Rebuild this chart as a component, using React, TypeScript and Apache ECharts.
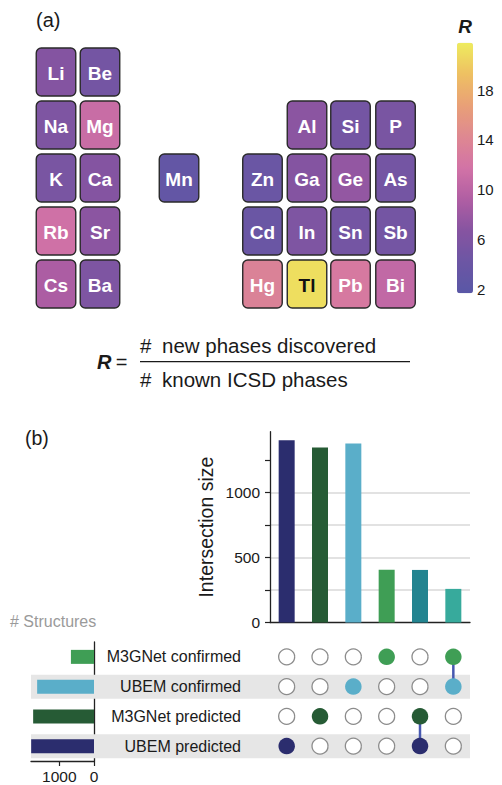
import React, { useEffect, useRef } from "react";
import * as echarts from "echarts";

// ---------- Data: panel (a) ----------
const elements = ["Li", "Be", "Na", "Mg", "K", "Ca", "Rb", "Sr", "Cs", "Ba", "Mn", "Al", "Si", "P", "Zn", "Ga", "Ge", "As", "Cd", "In", "Sn", "Sb", "Hg", "Tl", "Pb", "Bi"];
const periods = [2, 2, 3, 3, 4, 4, 5, 5, 6, 6, 4, 3, 3, 3, 4, 4, 4, 4, 5, 5, 5, 5, 6, 6, 6, 6];
const groups = [1, 2, 1, 2, 1, 2, 1, 2, 1, 2, 7, 13, 14, 15, 12, 13, 14, 15, 12, 13, 14, 15, 12, 13, 14, 15];
const ratios = [6.5, 5.0, 6.0, 11.0, 5.5, 6.5, 11.5, 7.0, 9.0, 6.0, 3.0, 7.0, 5.0, 5.5, 4.0, 6.5, 7.5, 5.0, 4.0, 6.0, 5.0, 5.0, 13.5, 21.0, 12.5, 10.5];
const ratioMin = 1.7;
const ratioMax = 21.8;
const colorbarLabels = [2, 6, 10, 14, 18];
const colorbarTicks = [2, 4, 6, 8, 10, 12, 14, 16, 18, 20];

// ---------- Data: panel (b) ----------
const setNames = ["M3GNet confirmed", "UBEM confirmed", "M3GNet predicted", "UBEM predicted"];
const setSizes = [665, 1638, 1753, 1810];
const setSizeTicks = [0, 1000];
const intersectionIds = ["i1", "i2", "i3", "i4", "i5", "i6"];
const intersectionSizes = [1405, 1348, 1379, 406, 405, 259];
const intersectionSets = [[3], [2], [1], [0], [2, 3], [0, 1]];
const upsetLabels = [0, 500, 1000];
const upsetTicks = [0, 250, 500, 750, 1000, 1250];

// ---------- Styling / layout ----------
const FONT = "'Liberation Sans', Arial, Helvetica, sans-serif";
const cmap = ["#5957a6", "#6c56a4", "#8654a1", "#b05ea3", "#d273a6", "#de8891", "#e9a077", "#eec062", "#eeec5e"];
const groupSlot: Record<number, number> = { 1: 0, 2: 0.993, 7: 2.777, 12: 4.661, 13: 5.666, 14: 6.648, 15: 7.664 };
const intersectionColors = ["#2b2d6e", "#265b35", "#5aaec9", "#3f9e55", "#238490", "#37aa9c"];
const setColors = ["#3f9e55", "#5aaec9", "#265b35", "#2b2d6e"];
const bandRows = [false, true, false, true];
const AX = "#222";

export default function App() {
  const ref = useRef<HTMLDivElement>(null);

  useEffect(() => {
    if (!ref.current) return;
    const chart = echarts.init(ref.current, undefined, { renderer: "svg" });

    const tileData = elements.map((el, i) => ({
      name: el,
      value: [groupSlot[groups[i]], periods[i], ratios[i]],
    }));

    const emptyDots: number[][] = [];
    const filledDots: any[] = [];
    intersectionSets.forEach((sets, c) => {
      setNames.forEach((_, r) => {
        if (sets.includes(r)) filledDots.push({ value: [c, r], itemStyle: { color: setColors[r] } });
        else emptyDots.push([c, r]);
      });
    });
    const connectors = intersectionSets
      .map((sets, c) => (sets.length > 1 ? [c, Math.min(...sets), Math.max(...sets)] : null))
      .filter((d) => d !== null);

    const matrixTop = 642;
    const matrixHeight = 119;

    const option: any = {
      animation: false,
      backgroundColor: "#ffffff",
      textStyle: { fontFamily: FONT },
      grid: [
        { left: 33.85, top: 45.5, width: 383.2, height: 265 },
        { left: 457, top: 42.7, width: 16, height: 250.6 },
        { left: 270, top: 431.7, width: 200, height: 190.8 },
        { left: 31, top: matrixTop, width: 439, height: matrixHeight },
        { left: 270, top: matrixTop, width: 200, height: matrixHeight },
        { left: 31, top: matrixTop, width: 63, height: matrixHeight },
      ],
      xAxis: [
        { gridIndex: 0, type: "value", min: -0.5, max: 8.15, show: false },
        { gridIndex: 1, type: "value", min: 0, max: 1, show: false },
        {
          gridIndex: 2, type: "category", data: intersectionIds,
          axisLine: { lineStyle: { color: AX, width: 1.3 } },
          axisTick: { show: false }, axisLabel: { show: false },
        },
        { gridIndex: 3, type: "value", min: 0, max: 1, show: false },
        { gridIndex: 4, type: "category", data: intersectionIds, show: false },
        {
          gridIndex: 5, type: "value", inverse: true, min: 0, max: 1815, interval: 1000,
          axisLine: { show: true, lineStyle: { color: AX, width: 1.3 } },
          axisTick: { show: true, length: 5, customValues: setSizeTicks, lineStyle: { color: AX, width: 1.2 } },
          axisLabel: {
            fontSize: 15.5, color: "#1a1a1a", margin: 7, fontFamily: FONT,
            customValues: setSizeTicks, formatter: (v: number) => String(v),
          },
          splitLine: { show: true, showMaxLine: false, showMinLine: false, lineStyle: { color: "#d4d4d4", width: 1.2 } },
        },
      ],
      yAxis: [
        { gridIndex: 0, type: "value", inverse: true, min: 1.5, max: 6.5, show: false },
        {
          gridIndex: 1, type: "value", position: "right", min: ratioMin, max: ratioMax,
          axisLine: { show: false },
          axisTick: { show: true, inside: true, length: 3, customValues: colorbarTicks, lineStyle: { color: "rgba(255,255,255,0.75)", width: 1 } },
          axisLabel: { show: true, customValues: colorbarLabels, fontSize: 15, color: "#1a1a1a", margin: 4, fontFamily: FONT },
          splitLine: { show: false },
        },
        {
          gridIndex: 2, type: "value", min: 0, max: 1470, interval: 250,
          name: "Intersection size", nameLocation: "middle", nameGap: 54, nameRotate: 90,
          nameTextStyle: { fontSize: 19.5, color: "#1a1a1a", fontFamily: FONT },
          axisLine: { show: true, lineStyle: { color: AX, width: 1.3 } },
          axisTick: { show: true, length: 5, customValues: upsetTicks, lineStyle: { color: AX, width: 1.2 } },
          axisLabel: {
            fontSize: 15.5, color: "#1a1a1a", margin: 10, fontFamily: FONT,
            customValues: upsetLabels, formatter: (v: number) => String(v),
          },
          splitLine: { show: true, showMaxLine: false, showMinLine: false, lineStyle: { color: "#d9d9d9", width: 1.5 } },
        },
        { gridIndex: 3, type: "category", inverse: true, data: setNames, show: false },
        {
          gridIndex: 4, type: "category", inverse: true, data: setNames,
          axisLine: { show: false }, axisTick: { show: false },
          axisLabel: { fontSize: 16, color: "#1a1a1a", margin: 29, fontFamily: FONT },
        },
        {
          gridIndex: 5, type: "category", inverse: true, data: setNames, position: "right",
          axisLine: { show: true, lineStyle: { color: AX, width: 1.3 } },
          axisTick: { show: false }, axisLabel: { show: false },
        },
      ],
      visualMap: {
        type: "continuous", seriesIndex: 0, dimension: 2,
        min: ratioMin, max: ratioMax, calculable: false,
        orient: "vertical", left: 457, top: 42.7, itemWidth: 16, itemHeight: 250.6, padding: 0,
        inRange: { color: cmap },
      },
      series: [
        {
          type: "custom", xAxisIndex: 0, yAxisIndex: 0, encode: { x: 0, y: 1 },
          data: tileData,
          renderItem: (params: any, api: any) => {
            const p = api.coord([api.value(0), api.value(1)]);
            const w = 39.5, h = 48;
            const name = elements[params.dataIndex];
            const dark = ratios[params.dataIndex] > 19;
            return {
              type: "group",
              children: [
                {
                  type: "rect",
                  shape: { x: p[0] - w / 2, y: p[1] - h / 2, width: w, height: h, r: 5 },
                  style: { fill: api.visual("color"), stroke: "#2a2a2a", lineWidth: 1.4 },
                },
                {
                  type: "text",
                  x: p[0], y: p[1] + 1,
                  style: {
                    text: name, align: "center", verticalAlign: "middle",
                    fill: dark ? "#111111" : "#ffffff",
                    font: `bold 19px ${FONT}`,
                  },
                },
              ],
            };
          },
        },
        { type: "line", xAxisIndex: 1, yAxisIndex: 1, data: [] },
        {
          type: "bar", xAxisIndex: 2, yAxisIndex: 2, barWidth: 16, z: 3,
          data: intersectionSizes.map((v, i) => ({ value: v, itemStyle: { color: intersectionColors[i] } })),
        },
        {
          type: "bar", xAxisIndex: 3, yAxisIndex: 3, barWidth: 24, silent: true, z: 0,
          itemStyle: { color: "#e6e6e6" },
          data: bandRows.map((b) => (b ? 1 : "-")),
        },
        {
          type: "custom", xAxisIndex: 4, yAxisIndex: 4, z: 3,
          encode: { x: 0, y: [1, 2] },
          data: connectors,
          renderItem: (params: any, api: any) => {
            const a = api.coord([api.value(0), api.value(1)]);
            const b = api.coord([api.value(0), api.value(2)]);
            return {
              type: "line",
              shape: { x1: a[0], y1: a[1], x2: b[0], y2: b[1] },
              style: { stroke: "#4758b0", lineWidth: 2.5 },
            };
          },
        },
        {
          type: "scatter", xAxisIndex: 4, yAxisIndex: 4, symbolSize: 16, z: 4,
          itemStyle: { color: "#ffffff", borderColor: "#8c8c8c", borderWidth: 1.3, opacity: 1 },
          data: emptyDots,
        },
        {
          type: "scatter", xAxisIndex: 4, yAxisIndex: 4, symbolSize: 16.5, z: 5,
          itemStyle: { opacity: 1 },
          data: filledDots,
        },
        {
          type: "bar", xAxisIndex: 5, yAxisIndex: 5, barWidth: 14, z: 3,
          data: setSizes.map((v, i) => ({ value: v, itemStyle: { color: setColors[i] } })),
        },
      ],
      graphic: [
        { type: "text", style: { text: "(a)", x: 36, y: 20, verticalAlign: "middle", font: `20px ${FONT}`, fill: "#1a1a1a" } },
        { type: "text", style: { text: "(b)", x: 25, y: 438, verticalAlign: "middle", font: `19.5px ${FONT}`, fill: "#1a1a1a" } },
        { type: "text", style: { text: "R", x: 465, y: 26, align: "center", verticalAlign: "middle", font: `italic bold 19px ${FONT}`, fill: "#1a1a1a" } },
        { type: "text", style: { text: "R", x: 97, y: 362, verticalAlign: "middle", font: `italic bold 20px ${FONT}`, fill: "#1a1a1a" } },
        { type: "text", style: { text: "=", x: 121.5, y: 362, align: "center", verticalAlign: "middle", font: `20px ${FONT}`, fill: "#1a1a1a" } },
        { type: "text", style: { text: "#", x: 140, y: 345, verticalAlign: "middle", font: `20.5px ${FONT}`, fill: "#1a1a1a" } },
        { type: "text", style: { text: "new phases discovered", x: 162, y: 345, verticalAlign: "middle", font: `20.5px ${FONT}`, fill: "#1a1a1a" } },
        { type: "line", shape: { x1: 140, y1: 361.7, x2: 410, y2: 361.7 }, style: { stroke: "#1a1a1a", lineWidth: 1.2 } },
        { type: "text", style: { text: "#", x: 140, y: 379, verticalAlign: "middle", font: `20.5px ${FONT}`, fill: "#1a1a1a" } },
        { type: "text", style: { text: "known ICSD phases", x: 162, y: 379, verticalAlign: "middle", font: `20.5px ${FONT}`, fill: "#1a1a1a" } },
        { type: "text", style: { text: "# Structures", x: 10, y: 621, verticalAlign: "middle", font: `16px ${FONT}`, fill: "#9a9a9a" } },
      ],
    };

    chart.setOption(option);
    return () => chart.dispose();
  }, []);

  return (
    <div
      ref={ref}
      style={{ position: "fixed", left: 0, top: 0, width: 502, height: 785, background: "#ffffff" }}
    />
  );
}
